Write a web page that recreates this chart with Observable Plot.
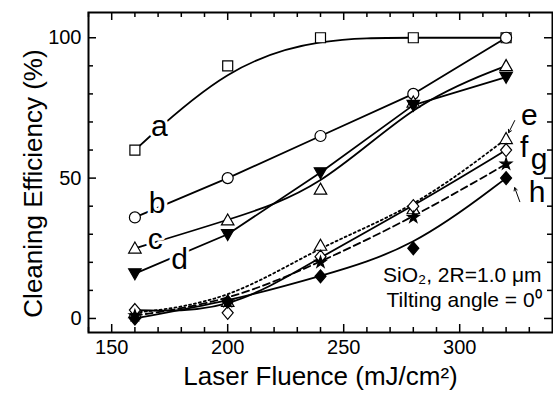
<!DOCTYPE html>
<html><head><meta charset="utf-8">
<script src="https://cdn.jsdelivr.net/npm/d3@7"></script>
<script src="https://cdn.jsdelivr.net/npm/@observablehq/plot@0.6"></script>
<style>body{margin:0;background:#fff} svg{display:block}</style>
</head><body><div id="chart"></div>
<script>
// ---- data ----
const fluence = [160, 200, 240, 280, 320];
const seriesA = [60, 90, 100, 100, 100];
const seriesB = [36, 50, 65, 80, 100];
const seriesC = [25, 35, 46, 77, 90];
const seriesD = [16, 30, 52, 76, 86];
const seriesE = [2, 6, 26, 39, 64];
const seriesF = [3, 2, 22, 40, 60];
const seriesG = [1, 6, 20, 36, 55];
const seriesH = [0, 6, 15, 25, 50];
const seriesNames = ["a", "b", "c", "d", "e", "f", "g", "h"];
const xTicks = [150, 200, 250, 300];
const yTicks = [0, 50, 100];
const xMinorTicks = [140,150,160,170,180,190,200,210,220,230,240,250,260,270,280,290,300,310,320,330];
const yMinorTicks = [0,10,20,30,40,50,60,70,80,90,100];
const xTitle = "Laser Fluence (mJ/cm²)";
const yTitle = "Cleaning Efficiency (%)";
const note1 = "SiO₂, 2R=1.0 μm";
const note2 = "Tilting angle = 0⁰";
// label anchor positions (data coords)
const labelX = [170.5, 169.6, 168.8, 179.3, 330, 327.8, 334.2, 333.4];
const labelY = [68.5, 41.1, 28, 20.9, 72.5, 61, 56.8, 45];

// ---- layout ----
const W = 553, H = 404;
const mL = 88, mR = 1, mT = 12, mB = 72;
const innerH = H - mT - mB, innerW = W - mL - mR;
const MAJ = 8, MIN = 5;

const rad = s => Math.sqrt(s / Math.PI);
const symSquare = {draw(c, s){ const r = rad(s); c.rect(-r, -r, 2*r, 2*r); }};
const symUp = {draw(c, s){ const r = rad(s); c.moveTo(0, -r*1.25); c.lineTo(r*1.25, r*0.95); c.lineTo(-r*1.25, r*0.95); c.closePath(); }};
const symDown = {draw(c, s){ const r = rad(s); c.moveTo(0, r*1.25); c.lineTo(r*1.25, -r*0.95); c.lineTo(-r*1.25, -r*0.95); c.closePath(); }};
const symDiamond = {draw(c, s){ const r = rad(s); c.moveTo(0, -r*1.3); c.lineTo(r*1.1, 0); c.lineTo(0, r*1.3); c.lineTo(-r*1.1, 0); c.closePath(); }};

const values = [seriesA, seriesB, seriesC, seriesD, seriesE, seriesF, seriesG, seriesH];
const styles = [
  {curve: "basis", symbol: symSquare, r: 5, fill: "white"},
  {curve: "linear", symbol: "circle", r: 5.5, fill: "white"},
  {curve: "basis", symbol: symUp, r: 5, fill: "white"},
  {curve: "linear", symbol: symDown, r: 5, fill: "black"},
  {curve: "basis", symbol: symUp, r: 5, fill: "white", dash: "2,3"},
  {curve: "basis", symbol: symDiamond, r: 5, fill: "white"},
  {curve: "basis", symbol: d3.symbolStar, r: 3.6, fill: "black", dash: "7,4"},
  {curve: "basis", symbol: symDiamond, r: 5, fill: "black"}
];

const marks = [];
seriesNames.forEach((name, i) => {
  const rows = fluence.map((x, j) => ({x, y: values[i][j]}));
  const st = styles[i];
  marks.push(Plot.line(rows, {x: "x", y: "y", curve: st.curve, stroke: "black", strokeWidth: 1.8, strokeDasharray: st.dash}));
});
seriesNames.forEach((name, i) => {
  const rows = fluence.map((x, j) => ({x, y: values[i][j]}));
  const st = styles[i];
  marks.push(Plot.dot(rows, {x: "x", y: "y", symbol: st.symbol, r: st.r, fill: st.fill, stroke: "black", strokeWidth: 1.2}));
});
const labels = seriesNames.map((t, i) => ({t, x: labelX[i], y: labelY[i]}));
marks.push(Plot.text(labels, {x: "x", y: "y", text: "t", fontSize: 30, fill: "black", stroke: "white", strokeWidth: 6, paintOrder: "stroke"}));
// arrows for e and h
marks.push(Plot.arrow([{x1: 323.7, y1: 70.5, x2: 321.1, y2: 66.2}, {x1: 325.9, y1: 41.6, x2: 323.7, y2: 46.6}],
  {x1: "x1", y1: "y1", x2: "x2", y2: "y2", stroke: "black", strokeWidth: 1, headLength: 5}));
// notes
marks.push(Plot.text([note1], {x: 335.3, y: 15.3, text: d => d, textAnchor: "end", fontSize: 21, fill: "black"}));
marks.push(Plot.text([note2], {x: 335.3, y: 6.4, text: d => d, textAnchor: "end", fontSize: 21, fill: "black"}));
// inward ticks
const xMajSet = new Set(xTicks);
const yMajSet = new Set(yTicks);
for (const [ticks, len] of [[xMinorTicks.filter(d => !xMajSet.has(d)), MIN], [xTicks, MAJ]]) {
  marks.push(Plot.ruleX(ticks, {x: d => d, insetTop: innerH - len, stroke: "black", strokeWidth: 1.5}));
  marks.push(Plot.ruleX(ticks, {x: d => d, insetBottom: innerH - len, stroke: "black", strokeWidth: 1.5}));
}
for (const [ticks, len] of [[yMinorTicks.filter(d => !yMajSet.has(d)), MIN], [yTicks, MAJ]]) {
  marks.push(Plot.ruleY(ticks, {y: d => d, insetRight: innerW - len, stroke: "black", strokeWidth: 1.5}));
  marks.push(Plot.ruleY(ticks, {y: d => d, insetLeft: innerW - len, stroke: "black", strokeWidth: 1.5}));
}
marks.push(Plot.frame({stroke: "black", strokeWidth: 2}));
marks.push(Plot.axisX({ticks: xTicks, tickSize: 0, tickPadding: 7, fontSize: 20, label: null}));
marks.push(Plot.axisY({ticks: yTicks, tickSize: 0, tickPadding: 7, fontSize: 20, label: null}));
marks.push(Plot.text([xTitle], {frameAnchor: "bottom", dy: 52, text: d => d, fontSize: 26, fill: "black"}));
marks.push(Plot.text([yTitle], {frameAnchor: "left", textAnchor: "middle", dx: -55, dy: 11, rotate: -90, text: d => d, fontSize: 26, fill: "black"}));

const chart = Plot.plot({
  width: W, height: H,
  marginLeft: mL, marginRight: mR, marginTop: mT, marginBottom: mB,
  x: {domain: [140, 340]},
  y: {domain: [-5, 109]},
  style: {fontFamily: "'Liberation Sans', Arial, sans-serif", color: "black", background: "white", overflow: "visible"},
  marks
});
document.getElementById("chart").appendChild(chart);
</script>
</body></html>
